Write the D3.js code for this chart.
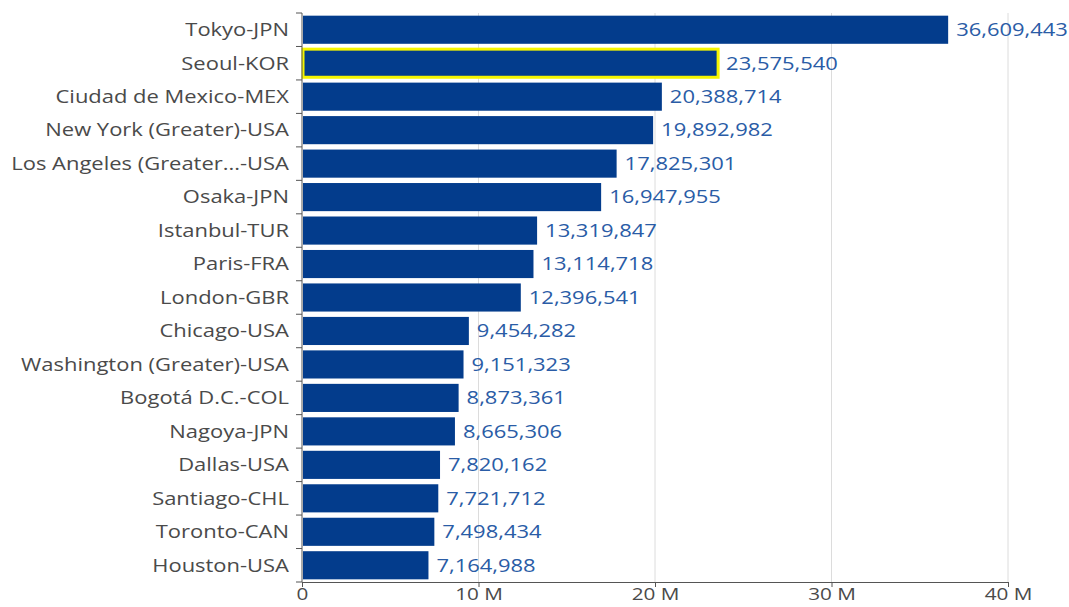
<!DOCTYPE html>
<html>
<head>
<meta charset="utf-8">
<script src="https://cdn.jsdelivr.net/npm/d3@7"></script>
<style>
  html, body { margin: 0; padding: 0; background: #fff; }
  svg { display: block; font-family: "Open Sans", "Noto Sans", sans-serif; }
</style>
</head>
<body>
<svg id="chart" width="1069" height="607"></svg>
<script>
// City names and populations, largest first
const cities = [
  "Tokyo-JPN", "Seoul-KOR", "Ciudad de Mexico-MEX", "New York (Greater)-USA",
  "Los Angeles (Greater...-USA", "Osaka-JPN", "Istanbul-TUR", "Paris-FRA",
  "London-GBR", "Chicago-USA", "Washington (Greater)-USA", "Bogotá D.C.-COL",
  "Nagoya-JPN", "Dallas-USA", "Santiago-CHL", "Toronto-CAN", "Houston-USA"
];
const population = [
  36609443, 23575540, 20388714, 19892982, 17825301, 16947955, 13319847, 13114718,
  12396541, 9454282, 9151323, 8873361, 8665306, 7820162, 7721712, 7498434, 7164988
];
const xTicks = [0, 10e6, 20e6, 30e6, 40e6];
const xTickLabels = ["0", "10 M", "20 M", "30 M", "40 M"];
const highlighted = ["Seoul-KOR"];

const margin = { top: 13, right: 61, bottom: 25, left: 302 };
const width = 1069, height = 607;
const fontSize = 18;
const stretch = 1.22; // wide lettering
const svg = d3.select("#chart");

const x = d3.scaleLinear().domain([0, 40e6]).range([margin.left, width - margin.right]);
const y = d3.scaleBand().domain(cities).range([margin.top, height - margin.bottom])
  .paddingInner(0.16).paddingOuter(0.08);

const data = cities.map((c, i) => ({ city: c, value: population[i] }));

// vertical gridlines
svg.append("g").selectAll("line").data(xTicks.slice(1)).join("line")
  .attr("x1", d => x(d)).attr("x2", d => x(d))
  .attr("y1", margin.top).attr("y2", height - margin.bottom)
  .attr("stroke", "#dcdcdc").attr("stroke-width", 1);

// bars
svg.append("g").selectAll("rect").data(data).join("rect")
  .attr("x", x(0) + 1)
  .attr("y", d => y(d.city))
  .attr("width", d => x(d.value) - x(0) - 1)
  .attr("height", y.bandwidth())
  .attr("fill", "#033c8c")
  .attr("stroke", d => highlighted.includes(d.city) ? "#f5f500" : "none")
  .attr("stroke-width", 3);

// value labels
const fmt = d3.format(",");
svg.append("g").selectAll("text").data(data).join("text")
  .attr("transform", d => `translate(${x(d.value) + 8},${y(d.city) + y.bandwidth() / 2}) scale(${stretch},1)`)
  .attr("dy", "0.35em")
  .attr("fill", "#2a5ca6")
  .attr("font-size", fontSize)
  .text(d => fmt(d.value));

// y axis: ticks sit between bands
const yAxis = svg.append("g").attr("transform", `translate(${margin.left},0)`);
yAxis.append("line")
  .attr("x1", 0).attr("x2", 0)
  .attr("y1", margin.top).attr("y2", height - margin.bottom)
  .attr("stroke", "#555");
const step = y.step();
const bounds = d3.range(cities.length + 1).map(i => margin.top + i * step);
yAxis.selectAll("line.tick").data(bounds).join("line")
  .attr("class", "tick")
  .attr("x1", -6).attr("x2", 0)
  .attr("y1", d => d).attr("y2", d => d)
  .attr("stroke", "#555");
yAxis.selectAll("text").data(cities).join("text")
  .attr("transform", d => `translate(-13,${y(d) + y.bandwidth() / 2}) scale(${stretch},1)`)
  .attr("dy", "0.35em")
  .attr("text-anchor", "end")
  .attr("fill", "#4a4a4a")
  .attr("font-size", fontSize)
  .text(d => d);

// x axis
const xAxis = svg.append("g")
  .attr("transform", `translate(0,${height - margin.bottom})`)
  .call(d3.axisBottom(x).tickValues(xTicks)
    .tickFormat((d, i) => xTickLabels[i]).tickSize(5).tickPadding(1));
xAxis.select(".domain").attr("stroke", "#555");
xAxis.selectAll(".tick line").attr("stroke", "#555");
xAxis.selectAll(".tick text")
  .attr("fill", "#4a4a4a")
  .attr("font-size", 17)
  .attr("font-family", "\"Open Sans\", \"Noto Sans\", sans-serif")
  .attr("transform", `scale(${stretch},1)`);
</script>
</body>
</html>
